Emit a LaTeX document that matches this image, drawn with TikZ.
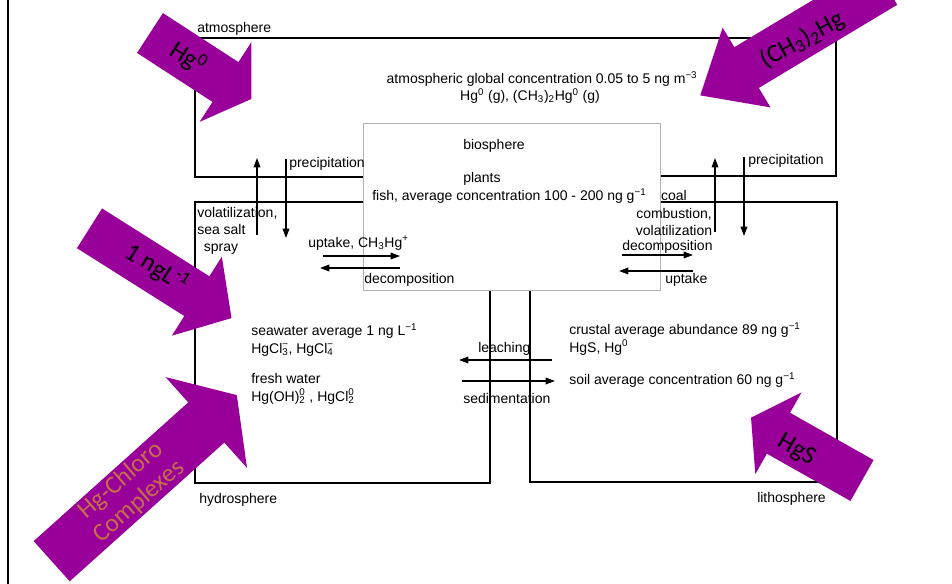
\documentclass[tikz,border=0pt]{standalone}
\usepackage{fontspec}
\setmainfont{Liberation Sans}
\newfontfamily\calibrifont{Carlito}
\usetikzlibrary{arrows.meta}

\definecolor{hgpurple}{RGB}{153,0,153}
\definecolor{chloroorange}{RGB}{198,110,72}

\newcommand{\subsup}[2]{\rlap{\textsuperscript{#2}}\textsubscript{#1}}

% block arrow: tail, angle, length, shaft width, head width, head length
\newcommand{\blockarrow}[6]{%
  \fill[hgpurple, shift={#1}, rotate=#2]
    (0,{#4/2}) -- ({#3-#6},{#4/2}) -- ({#3-#6},{#5/2}) -- (#3,0)
    -- ({#3-#6},{-#5/2}) -- ({#3-#6},{-#4/2}) -- (0,{-#4/2}) -- cycle;}

\begin{document}
\begin{tikzpicture}[x=0.75pt, y=-0.75pt, >={Triangle[length=7pt,width=5pt]},
  sphere/.style={line width=1.3pt},
  bio/.style={line width=0.6pt, gray!60},
  flow/.style={line width=0.9pt, ->},
  txt/.style={font=\fontsize{10.5}{13}\selectfont, inner sep=0pt, anchor=west},
  blocktxt/.style={font=\calibrifont\fontsize{19}{21}\selectfont, inner sep=0pt}]

\useasboundingbox (0,0) rectangle (952,584);
\clip (0,0) rectangle (952,584);

% Flow end points
\coordinate (volA) at (257,235);
\coordinate (volB) at (257,158);
\coordinate (preA) at (286,159);
\coordinate (preB) at (286,238);
\coordinate (upA) at (323,256);
\coordinate (upB) at (400,256);
\coordinate (decA) at (400,268);
\coordinate (decB) at (320,268);
\coordinate (coalA) at (715,232);
\coordinate (coalB) at (715,158);
\coordinate (rainA) at (744,157);
\coordinate (rainB) at (744,236);
\coordinate (rdecA) at (622,255);
\coordinate (rdecB) at (693,255);
\coordinate (rupA) at (693,271);
\coordinate (rupB) at (619,271);
\coordinate (leachA) at (552,360);
\coordinate (leachB) at (459,360);
\coordinate (sedA) at (462,381);
\coordinate (sedB) at (555,381);

% Slide frame
\draw[line width=1.8pt] (8,0) -- (8,584);

% Spheres
\draw[sphere] (363,177) -- (195,177) -- (195,38) -- (836,38) -- (836,176) -- (660,176);
\draw[sphere] (363,202) -- (195,202) -- (195,483) -- (490,483) -- (490,290);
\draw[sphere] (660,202) -- (837,202) -- (837,482) -- (530,482) -- (530,290);
\draw[bio] (363,123) rectangle (660,290);

% Fluxes
\draw[flow] (volA) -- (volB);
\draw[flow] (preA) -- (preB);
\draw[flow] (upA) -- (upB);
\draw[flow] (decA) -- (decB);
\draw[flow] (coalA) -- (coalB);
\draw[flow] (rainA) -- (rainB);
\draw[flow] (rdecA) -- (rdecB);
\draw[flow] (rupA) -- (rupB);
\draw[flow] (leachA) -- (leachB);
\draw[flow] (sedA) -- (sedB);

% Labels
\node[txt] (atmlabel) at (197,29) {atmosphere};
\node[txt, anchor=center] (atmconc) at (542,79) {atmospheric global concentration 0.05 to 5 ng m\textsuperscript{−3}};
\node[txt, anchor=center] (atmspecies) at (530,96) {Hg\textsuperscript{0} (g), (CH\textsubscript{3})\textsubscript{2}Hg\textsuperscript{0} (g)};
\node[txt] (biolabel) at (463,146) {biosphere};
\node[txt] (bioplants) at (463,179) {plants};
\node[txt] (biofish) at (372,196) {fish, average concentration 100 - 200 ng g\textsuperscript{−1}};
\node[txt] (precipL) at (289,164) {precipitation};
\node[txt, align=left] (volatL) at (197,231) {volatilization,\\sea salt\\\hspace{5pt}spray};
\node[txt] (uptakeL) at (308,243) {uptake, CH\textsubscript{3}Hg\textsuperscript{+}};
\node[txt] (decompL) at (364,280) {decomposition};
\node[txt] (precipR) at (748,161) {precipitation};
\node[txt, anchor=center, align=center] (coalR) at (674,213) {coal\\combustion,\\volatilization};
\node[txt] (decompR) at (622,247) {decomposition};
\node[txt] (uptakeR) at (665,280) {uptake};
\node[txt] (leach) at (478,349) {leaching};
\node[txt] (sediment) at (463,398) {sedimentation};
\node[txt, align=left] (seawater) at (251,340) {seawater average 1 ng L\textsuperscript{−1}\\HgCl\subsup{3}{−}, HgCl\subsup{4}{−}};
\node[txt, align=left] (freshwater) at (251,389) {fresh water\\Hg(OH)\subsup{2}{0} , HgCl\subsup{2}{0}};
\node[txt, align=left] (crustal) at (569,339) {crustal average abundance 89 ng g\textsuperscript{−1}\\HgS, Hg\textsuperscript{0}};
\node[txt] (soil) at (569,380) {soil average concentration 60 ng g\textsuperscript{−1}};
\node[txt] (hydrolabel) at (199,500) {hydrosphere};
\node[txt] (litholabel) at (757,499) {lithosphere};

% Species arrows
\blockarrow{(150,33)}{-33}{121}{47.5}{95}{31}
\blockarrow{(885,-15.6)}{-149}{215.5}{47.5}{93}{54}
\blockarrow{(89.5,228.3)}{-32.3}{168}{47}{93.5}{41}
\blockarrow{(51.7,561.2)}{41.9}{248.7}{54}{122}{41}
\blockarrow{(862,480.5)}{150.5}{127.5}{47}{94}{31.5}

\node[blocktxt, rotate=-33] (hgzero) at (188,58) {Hg\textsuperscript{0}};
\node[blocktxt, rotate=29] (dimethyl) at (802,40) {(CH\textsubscript{3})\textsubscript{2}Hg};
\node[blocktxt, rotate=-32] (ngl) at (157,268) {1 ngL\textsuperscript{-1}};
\node[blocktxt, rotate=41, text=chloroorange, align=center] (chloro) at (130,491) {Hg-Chloro\\Complexes};
\node[blocktxt, rotate=-30] (hgs) at (797,450) {HgS};

\end{tikzpicture}
\end{document}
